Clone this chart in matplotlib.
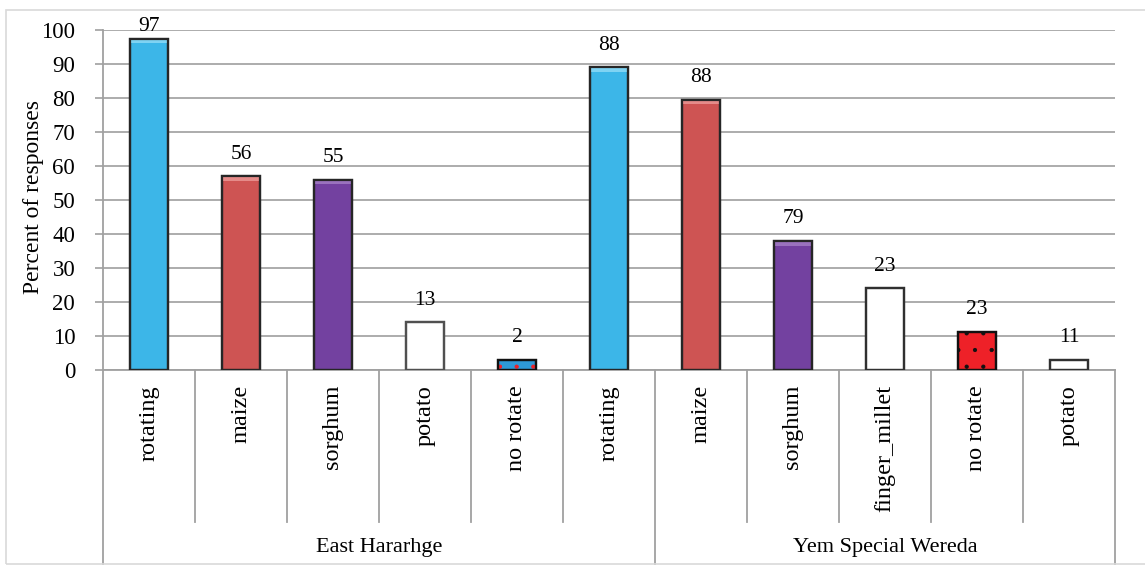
import numpy as np
import matplotlib.pyplot as plt
from matplotlib.patches import Rectangle
from matplotlib.transforms import blended_transform_factory

plt.rcParams['font.family'] = ['Liberation Serif', 'DejaVu Serif']
plt.rcParams['hatch.linewidth'] = 0.6

categories = ['rotating', 'maize', 'sorghum', 'potato', 'no rotate', 'rotating',
              'maize', 'sorghum', 'finger_millet', 'no rotate', 'potato']
heights = [97.5, 57, 56, 14, 3, 89, 79.5, 38, 24, 11.3, 3]
value_labels = ['97', '56', '55', '13', '2', '88', '88', '79', '23', '23', '11']
groups = ['East Hararhge', 'Yem Special Wereda']
group_sizes = [6, 5]

face = ['#3CB6E8', '#CE5453', '#7341A0', 'white', '#2E9AD8',
        '#3CB6E8', '#CE5453', '#7341A0', 'white', '#EE2128', 'white']
top_light = ['#7FD3F3', '#E58B89', '#9A72BE', None, None,
             '#7FD3F3', '#E58B89', '#9A72BE', None, None, None]
edge = ['#262626', '#262626', '#262626', '#505050', '#111111',
        '#262626', '#262626', '#262626', '#303030', '#111111', '#303030']
hatch_col = [None, None, None, None, '#EE2128', None, None, None, None, '#111111', None]

W, H = 1145, 565
fig = plt.figure(figsize=(W / 100, H / 100), dpi=100)
ax = fig.add_axes([103 / W, 1 - 370 / H, 1012 / W, 340 / H])

x = np.arange(len(categories))
ax.bar(x, heights, width=0.42, color=face, edgecolor=edge, linewidth=1.6, zorder=3)
for i, h in enumerate(heights):
    # light bevel strip at the top of the coloured bars
    if top_light[i]:
        ax.bar(x[i], 1.4, bottom=h - 1.4, width=0.40, color=top_light[i],
               linewidth=0, zorder=4)
    if hatch_col[i]:
        ax.bar(x[i], h, width=0.42, color='none', edgecolor=hatch_col[i],
               hatch='.', linewidth=0, zorder=4)
    ax.bar(x[i], h, width=0.42, color='none', edgecolor=edge[i],
           linewidth=1.6, zorder=5)

for i, (h, lab) in enumerate(zip(heights, value_labels)):
    ax.text(x[i], min(h + 6.5, 101), lab, ha='center', va='center',
            fontsize=15.5, clip_on=False)

ax.set_xlim(-0.5, len(categories) - 0.5)
ax.set_ylim(0, 100)
ax.set_yticks(np.arange(0, 101, 10))
ax.set_xticks([])
ax.tick_params(axis='y', length=6, width=1.2, color='#A0A0A0', labelsize=16.5, pad=14)
ax.grid(axis='y', color='#A6A6A6', linewidth=1.3, zorder=0)
ax.set_axisbelow(True)
for s in ['top', 'right']:
    ax.spines[s].set_visible(False)
for s in ['left', 'bottom']:
    ax.spines[s].set_color('#A0A0A0')
    ax.spines[s].set_linewidth(1.3)

fig.text(34 / W, 1 - 197 / H, 'Percent of responses', rotation=90,
         ha='center', va='center', fontsize=17)

trans = blended_transform_factory(ax.transData, ax.transAxes)
for i, cat in enumerate(categories):
    ax.text(x[i], -0.044, cat, rotation=90, ha='center', va='top',
            fontsize=17.5, transform=trans)

edges_grp = np.cumsum([0] + group_sizes) - 0.5
for b in np.arange(-0.5, len(categories)):
    low = -0.59 if np.isclose(edges_grp, b).any() else -0.447
    ax.plot([b, b], [0, low], transform=trans, color='#A0A0A0',
            linewidth=1.3, clip_on=False)

for g, a, b in zip(groups, edges_grp[:-1], edges_grp[1:]):
    ax.text((a + b) / 2, -0.5235, g, ha='center', va='center',
            fontsize=16, transform=trans)

fig.add_artist(Rectangle((6 / W, 1 - 564 / H), 1.0, 554 / H, transform=fig.transFigure,
                         fill=False, edgecolor='#D9D9D9', linewidth=1.2))

fig.savefig('out.png', dpi=100, facecolor='white')
